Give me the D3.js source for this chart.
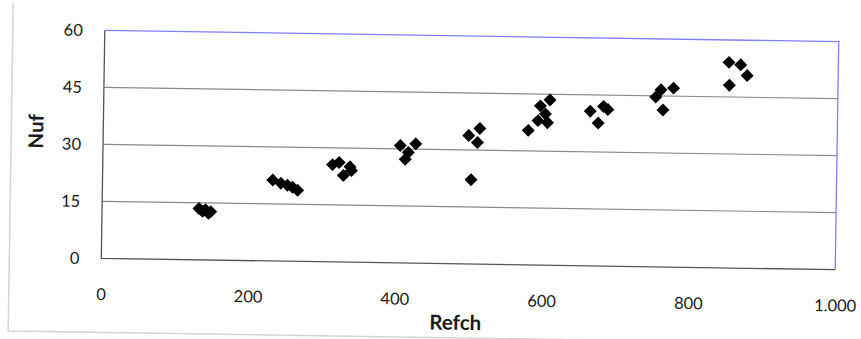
<!DOCTYPE html>
<html>
<head>
<meta charset="utf-8">
<script src="https://cdn.jsdelivr.net/npm/d3@7"></script>
<style>
  body { margin: 0; background: #fff; }
  svg text { font-family: Lato, "Open Sans", sans-serif; fill: #1a1a1a; }
</style>
</head>
<body>
<svg id="chart" width="861" height="339"></svg>
<script>
// Refch (x) and Nuf (y) pairs
const refch = [132, 137, 141, 145, 148,
               232, 243, 252, 259, 266,
               313, 322, 337, 328, 339,
               405, 426, 416, 412,
               498, 513, 510, 502,
               579, 592, 605, 602, 595, 608,
               663, 681, 687, 674,
               759, 752, 776, 762,
               851, 867, 876, 852];
const nuf = [13.5, 12.8, 13.2, 12.3, 12.7,
             21.3, 20.5, 20.0, 19.5, 18.7,
             25.6, 26.2, 25.1, 22.8, 24.1,
             30.9, 31.4, 29.1, 27.3,
             33.8, 35.7, 32.0, 22.2,
             35.4, 38.0, 37.5, 39.8, 41.9, 43.5,
             40.7, 42.0, 41.2, 37.6,
             46.6, 44.7, 47.1, 41.3,
             54.1, 53.5, 50.7, 48.1];

const xTicks = [0, 200, 400, 600, 800, 1000];
const xTickLabels = ["0", "200", "400", "600", "800", "1.000"];
const yTicks = [0, 15, 30, 45, 60];
const yTickLabels = ["0", "15", "30", "45", "60"];

const W = 861, H = 339;
const plot = { left: 103, right: 837, top: 36, bottom: 264 };
const cx = (plot.left + plot.right) / 2, cy = (plot.top + plot.bottom) / 2;

const x = d3.scaleLinear().domain([0, 1000]).range([plot.left, plot.right]);
const y = d3.scaleLinear().domain([0, 60]).range([plot.bottom, plot.top]);

const svg = d3.select("#chart");
svg.append("rect").attr("width", W).attr("height", H).attr("fill", "#fff");

// the whole sheet sits slightly askew
const g = svg.append("g").attr("transform", `rotate(0.88 ${cx} ${cy})`);

// outer chart frame (left and bottom edges)
g.append("path")
  .attr("d", `M11,10 V338 H${W + 10}`)
  .attr("fill", "none")
  .attr("stroke", "#d4d4d4")
  .attr("stroke-width", 1.5);

// horizontal gridlines
g.append("g")
  .selectAll("line")
  .data(yTicks.filter(v => v > 0 && v < 60))
  .join("line")
  .attr("x1", plot.left).attr("x2", plot.right)
  .attr("y1", d => y(d)).attr("y2", d => y(d))
  .attr("stroke", "#8a8a8a")
  .attr("stroke-width", 1.2);

// plot area border: top and right in blue
g.append("path")
  .attr("d", `M${plot.left},${plot.top} H${plot.right} V${plot.bottom}`)
  .attr("fill", "none")
  .attr("stroke", "#7f7fff")
  .attr("stroke-width", 1.3);

// axis lines: left and bottom
g.append("path")
  .attr("d", `M${plot.left},${plot.top} V${plot.bottom} H${plot.right}`)
  .attr("fill", "none")
  .attr("stroke", "#555")
  .attr("stroke-width", 1.3);

// y axis labels
const yAxis = d3.axisLeft(y)
  .tickValues(yTicks)
  .tickFormat((d, i) => yTickLabels[i])
  .tickSize(0)
  .tickPadding(22);
const yg = g.append("g").attr("transform", `translate(${plot.left},0)`).call(yAxis);
yg.select(".domain").remove();
yg.selectAll("text").attr("font-size", 16.5).style("font-family", "Lato, 'Open Sans', sans-serif").attr("fill", "#1a1a1a");

// x axis labels
const xAxis = d3.axisBottom(x)
  .tickValues(xTicks)
  .tickFormat((d, i) => xTickLabels[i])
  .tickSize(0)
  .tickPadding(30);
const xg = g.append("g").attr("transform", `translate(0,${plot.bottom})`).call(xAxis);
xg.select(".domain").remove();
xg.selectAll("text").attr("font-size", 16.5).style("font-family", "Lato, 'Open Sans', sans-serif").attr("fill", "#1a1a1a");

// axis titles
g.append("text")
  .attr("x", 458).attr("y", 330)
  .attr("text-anchor", "middle")
  .attr("font-size", 20.5).attr("font-weight", "bold")
  .text("Refch");

g.append("text")
  .attr("transform", "translate(43,138) rotate(-90)")
  .attr("text-anchor", "middle")
  .attr("font-size", 20.5).attr("font-weight", "bold")
  .text("Nuf");

// diamond markers
g.append("g")
  .selectAll("path")
  .data(refch.map((v, i) => [v, nuf[i]]))
  .join("path")
  .attr("transform", d => `translate(${x(d[0])},${y(d[1])}) rotate(45)`)
  .attr("d", d3.symbol().type(d3.symbolSquare).size(84))
  .attr("fill", "#000");
</script>
</body>
</html>
